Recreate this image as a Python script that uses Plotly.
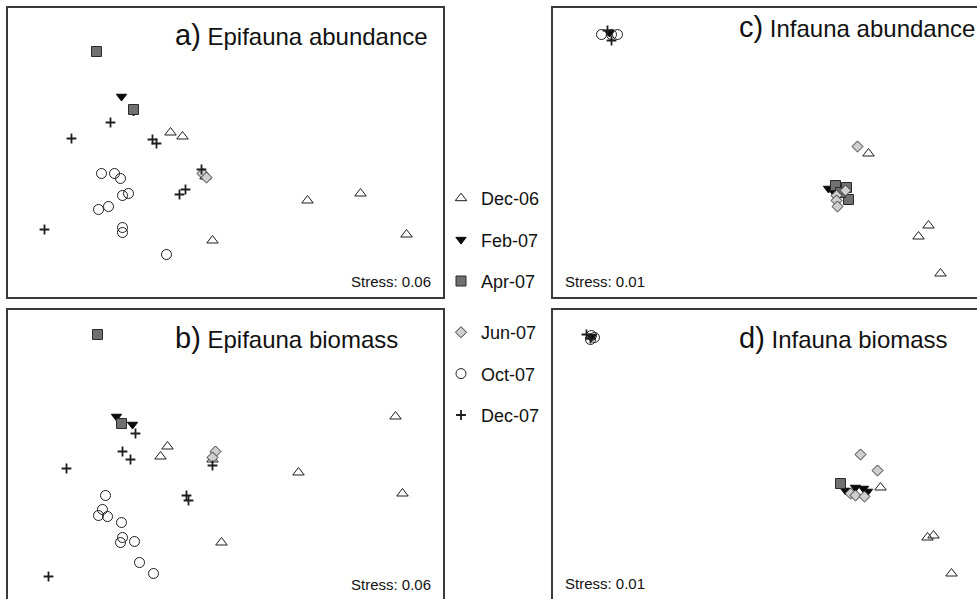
import plotly.graph_objects as go

W, H = 977, 599
FONT = "Liberation Sans, Arial, Helvetica, sans-serif"

months = ["Dec-06", "Feb-07", "Apr-07", "Jun-07", "Oct-07", "Dec-07"]

# NMDS scores (axis 1, axis 2) per panel and sampling month
# a) Epifauna abundance
a_x = {
    "Dec-06": [-0.55, -0.43, -0.20, 0.82, 1.35, 1.81, -0.13],
    "Feb-07": [-1.04, -0.92],
    "Apr-07": [-1.29, -0.92],
    "Jun-07": [-0.23, -0.19],
    "Oct-07": [-1.24, -1.11, -1.05, -1.03, -0.97, -1.27, -1.17, -1.03, -1.03, -0.59],
    "Dec-07": [-1.15, -1.54, -0.73, -0.69, -0.46, -0.40, -1.81, -0.24],
}
a_y = {
    "Dec-06": [0.20, 0.16, -0.24, -0.48, -0.41, -0.82, -0.88],
    "Feb-07": [0.56, 0.41],
    "Apr-07": [1.01, 0.43],
    "Jun-07": [-0.21, -0.25],
    "Oct-07": [-0.21, -0.21, -0.26, -0.43, -0.41, -0.57, -0.54, -0.75, -0.80, -1.02],
    "Dec-07": [0.30, 0.14, 0.13, 0.09, -0.42, -0.37, -0.77, -0.17],
}

# b) Epifauna biomass
b_x = {
    "Dec-06": [-0.58, -0.65, 1.70, 0.73, 1.77, -0.04, -0.13],
    "Feb-07": [-1.09, -0.93],
    "Apr-07": [-1.28, -1.04],
    "Jun-07": [-0.10, -0.13],
    "Oct-07": [-1.20, -1.23, -1.27, -1.18, -1.04, -1.03, -1.05, -0.91, -0.86, -0.72],
    "Dec-07": [-0.90, -1.03, -0.95, -1.59, -0.13, -0.39, -0.37, -1.77],
}
b_y = {
    "Dec-06": [0.08, -0.02, 0.38, -0.18, -0.39, -0.88, -0.05],
    "Feb-07": [0.38, 0.30],
    "Apr-07": [1.20, 0.31],
    "Jun-07": [0.03, -0.03],
    "Oct-07": [-0.41, -0.55, -0.61, -0.62, -0.68, -0.83, -0.88, -0.87, -1.08, -1.19],
    "Dec-07": [0.21, 0.03, -0.05, -0.14, -0.11, -0.41, -0.46, -1.22],
}

# c) Infauna abundance
c_x = {
    "Dec-06": [0.98, 1.58, 1.48, 1.70],
    "Feb-07": [-1.61, 0.58, 0.63],
    "Apr-07": [0.65, 0.76, 0.78, 0.70],
    "Jun-07": [0.87, 0.75, 0.66, 0.66, 0.67],
    "Oct-07": [-1.69, -1.59, -1.53],
    "Dec-07": [-1.63, -1.59],
}
c_y = {
    "Dec-06": [-0.01, -0.73, -0.84, -1.21],
    "Feb-07": [1.20, -0.36, -0.39],
    "Apr-07": [-0.33, -0.35, -0.47, -0.40],
    "Jun-07": [0.06, -0.38, -0.43, -0.48, -0.54],
    "Oct-07": [1.18, 1.18, 1.18],
    "Dec-07": [1.22, 1.12],
}

# d) Infauna biomass
d_x = {
    "Dec-06": [1.10, 1.57, 1.63, 1.81],
    "Feb-07": [-1.79, 0.75, 0.85, 0.93, 0.97],
    "Apr-07": [0.70],
    "Jun-07": [0.90, 1.07, 0.80, 0.85, 0.94],
    "Oct-07": [-1.79, -1.76, -1.80],
    "Dec-07": [-1.84, -1.80],
}
d_y = {
    "Dec-06": [-0.33, -0.83, -0.81, -1.19],
    "Feb-07": [1.18, -0.36, -0.33, -0.34, -0.37],
    "Apr-07": [-0.29],
    "Jun-07": [0.00, -0.16, -0.39, -0.41, -0.42],
    "Oct-07": [1.19, 1.17, 1.15],
    "Dec-07": [1.20, 1.16],
}

panel_letters = ["a)", "b)", "c)", "d)"]
panel_titles = ["Epifauna abundance", "Epifauna biomass", "Infauna abundance", "Infauna biomass"]
stress_values = [0.06, 0.06, 0.01, 0.01]

# marker styling per month
INK = "#1e1e1e"
styles = {
    "Dec-06": dict(symbol="triangle-up-open", size=10, color=INK, line=dict(color=INK, width=1)),
    "Feb-07": dict(symbol="triangle-down", size=9, color="#0a0a0a", line=dict(color="#0a0a0a", width=1)),
    "Apr-07": dict(symbol="square", size=10, color="#707070", line=dict(color="#2a2a2a", width=1)),
    "Jun-07": dict(symbol="diamond", size=8.5, color="#cfcfcf", line=dict(color="#333333", width=1)),
    "Oct-07": dict(symbol="circle-open", size=10, color=INK, line=dict(color=INK, width=1)),
    "Dec-07": dict(symbol="cross-thin-open", size=7, color=INK, line=dict(color=INK, width=1.8)),
}

# panel frames in page pixels: left, top, right, bottom
boxes = [
    (8, 8, 443, 297),
    (8, 310, 443, 599),
    (553, 8, 977, 297),
    (553, 310, 977, 599),
]
# full NMDS extent drawn in each frame (c and d continue past the page edge)
x_ranges = [[-2.175, 2.175], [-2.175, 2.175], [-2.175, 2.065], [-2.175, 2.065]]
y_range = [-1.445, 1.445]

xs = [a_x, b_x, c_x, d_x]
ys = [a_y, b_y, c_y, d_y]

fig = go.Figure()

for p in range(4):
    xa = "x" if p == 0 else f"x{p + 1}"
    ya = "y" if p == 0 else f"y{p + 1}"
    for m in months:
        st = styles[m]
        first = p == 0
        fig.add_trace(go.Scatter(
            x=xs[p][m], y=ys[p][m], mode="markers", name=m,
            xaxis=xa, yaxis=ya,
            marker=dict(symbol=st["symbol"], size=st["size"], color=st["color"], line=st["line"]),
            showlegend=first,
            legendgroup=m,
            legend="legend" if months.index(m) < 3 else "legend2",
            cliponaxis=True,
        ))


def px_x(v):
    return v / W


def px_y(v):
    return 1 - v / H


FRAME = dict(color="#3a3a3a", width=1.5)
layout_axes = {}
for p, (l, t, r, b) in enumerate(boxes):
    xk = "xaxis" if p == 0 else f"xaxis{p + 1}"
    yk = "yaxis" if p == 0 else f"yaxis{p + 1}"
    common = dict(showgrid=False, zeroline=False, showticklabels=False, ticks="",
                  fixedrange=True, linecolor=FRAME["color"], linewidth=FRAME["width"])
    xd = dict(common, domain=[px_x(l), px_x(r)], range=x_ranges[p],
              anchor="y" if p == 0 else f"y{p + 1}")
    yd = dict(common, domain=[max(0.0, px_y(b)), px_y(t)], range=y_range,
              anchor="x" if p == 0 else f"x{p + 1}")
    if p == 0:      # full box
        xd.update(showline=True, mirror=True)
        yd.update(showline=True, mirror=True)
    elif p == 1:    # bottom edge falls off the page
        xd.update(showline=True, mirror=False, side="top")
        yd.update(showline=True, mirror=True)
    elif p == 2:    # right edge falls off the page
        xd.update(showline=True, mirror=True)
        yd.update(showline=True, mirror=False)
    else:           # right and bottom edges fall off the page
        xd.update(showline=True, mirror=False, side="top")
        yd.update(showline=True, mirror=False)
    layout_axes[xk] = xd
    layout_axes[yk] = yd

annotations = []
title_pos = [(173, 35), (173, 338), (737, 27), (737, 338)]
for p in range(4):
    tx, ty = title_pos[p]
    annotations.append(dict(
        xref="paper", yref="paper", x=px_x(tx), y=px_y(ty),
        xanchor="left", yanchor="middle", showarrow=False,
        text=f"<span style='font-size:29px'>{panel_letters[p]}</span> {panel_titles[p]}",
        font=dict(family=FONT, size=24, color="#111111"),
    ))
stress_pos = [(433, 281, "right"), (433, 584, "right"), (563, 281, "left"), (563, 583, "left")]
for p in range(4):
    sx, sy, anc = stress_pos[p]
    annotations.append(dict(
        xref="paper", yref="paper", x=px_x(sx), y=px_y(sy),
        xanchor=anc, yanchor="middle", showarrow=False,
        text=f"Stress: {stress_values[p]:.2f}",
        font=dict(family=FONT, size=15, color="#111111"),
    ))

legend_common = dict(
    font=dict(family=FONT, size=18, color="#111111"),
    bgcolor="rgba(0,0,0,0)", borderwidth=0,
    xanchor="left", yanchor="top",
    tracegroupgap=15, itemwidth=30, traceorder="grouped",
)

fig.update_layout(
    width=W, height=H,
    margin=dict(l=0, r=0, t=0, b=0),
    paper_bgcolor="white", plot_bgcolor="white",
    annotations=annotations,
    legend=dict(legend_common, x=px_x(441), y=px_y(180)),
    legend2=dict(legend_common, x=px_x(441), y=px_y(314)),
    **layout_axes,
)

fig.write_html("out.html")
